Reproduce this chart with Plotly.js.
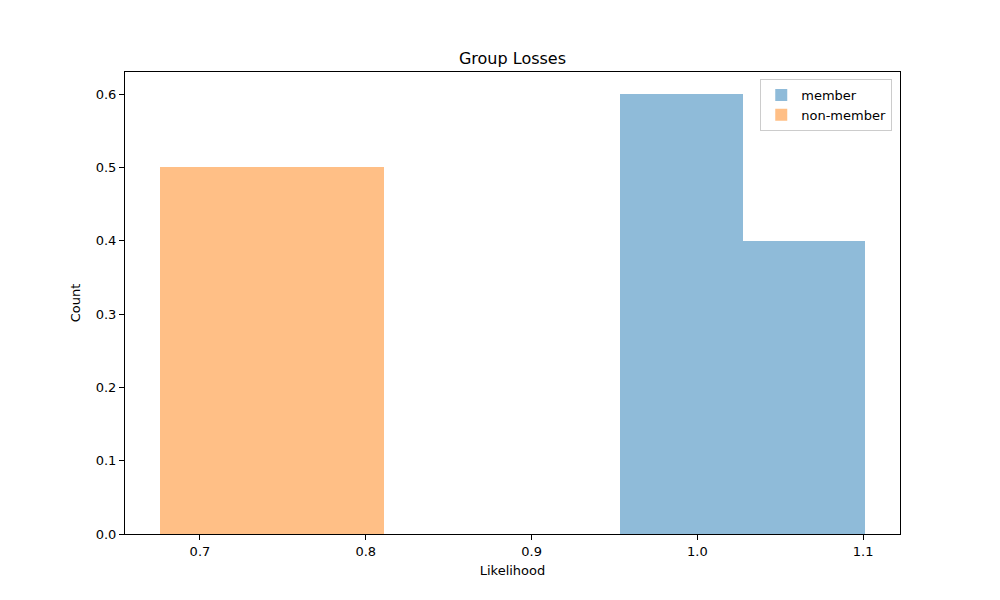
<!DOCTYPE html>
<html>
<head>
<script src="https://cdn.plot.ly/plotly-3.0.1.min.js"></script>
<style>body{margin:0;}</style>
</head>
<body>
<div id="graph" style="width:1000px;height:600px;"></div>
<script>
// histogram bins
const memberEdges = [0.9535, 1.0277, 1.1012];
const memberCounts = [0.6, 0.4];
const nonMemberEdges = [0.6759, 0.811];
const nonMemberCounts = [0.5];
const xTicks = [0.7, 0.8, 0.9, 1.0, 1.1];
const yTicks = [0, 0.1, 0.2, 0.3, 0.4, 0.5, 0.6];

function centers(edges) {
    return edges.slice(0, -1).map((e, i) => (e + edges[i + 1]) / 2);
}
function widths(edges) {
    return edges.slice(0, -1).map((e, i) => edges[i + 1] - e);
}

const font = {family: 'DejaVu Sans, sans-serif', size: 13, color: '#000'};

const data = [
    {
        type: 'bar', name: 'member',
        x: centers(memberEdges), y: memberCounts, width: widths(memberEdges),
        marker: {color: 'rgba(31,119,180,0.5)', line: {width: 0}}
    },
    {
        type: 'bar', name: 'non-member',
        x: centers(nonMemberEdges), y: nonMemberCounts, width: widths(nonMemberEdges),
        marker: {color: 'rgba(255,127,14,0.5)', line: {width: 0}}
    }
];

const axis = {
    showline: true, mirror: true, linecolor: '#000', linewidth: 1,
    ticks: 'outside', ticklen: 5, tickcolor: '#000',
    showgrid: false, zeroline: false, tickfont: font
};

const layout = {
    width: 1000, height: 600,
    paper_bgcolor: '#fff', plot_bgcolor: '#fff',
    margin: {l: 125, r: 100, t: 72, b: 66},
    barmode: 'overlay', bargap: 0,
    font: font,
    title: {text: 'Group Losses', font: {family: font.family, size: 16, color: '#000'}, x: 0.5125, xanchor: 'center', y: 0.903, yanchor: 'middle'},
    xaxis: Object.assign({}, axis, {
        range: [0.6548, 1.1222], tickvals: xTicks, ticktext: xTicks.map(v => v.toFixed(1)),
        title: {text: 'Likelihood', font: font, standoff: 8}
    }),
    yaxis: Object.assign({}, axis, {
        range: [0, 0.63], tickvals: yTicks, ticktext: yTicks.map(v => v.toFixed(1)),
        title: {text: 'Count', font: font, standoff: 12}
    }),
    legend: {
        x: 0.99, y: 0.985, xanchor: 'right', yanchor: 'top',
        bgcolor: 'rgba(255,255,255,0.8)', bordercolor: '#ccc', borderwidth: 1,
        font: font
    }
};

Plotly.newPlot('graph', data, layout, {displayModeBar: false});
</script>
</body>
</html>
